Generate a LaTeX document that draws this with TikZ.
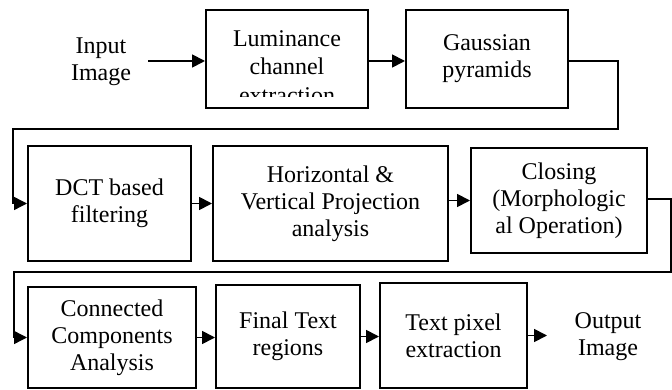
\documentclass[tikz,border=0pt]{standalone}
\usepackage{fontspec}
\setmainfont{Liberation Serif}
\usetikzlibrary{arrows.meta}
\tikzset{
  stage/.style={draw, line width=2pt, inner sep=0pt, align=center, anchor=center},
  plain/.style={inner sep=0pt, align=center},
  arr/.style={line width=1.8pt, -{Triangle[length=13pt,width=13pt]}},
  wrap/.style={line width=1.4pt, -{Triangle[length=13pt,width=13pt]}},
}
\begin{document}
\begin{tikzpicture}[x=1pt,y=-1pt,font=\fontsize{24}{27}\selectfont]
\useasboundingbox (0,0) rectangle (672,390);

% first row
\node[plain] (inp) at (101,62) {Input\\Image};
\node[stage, minimum width=162pt, minimum height=98pt] (lum) at (287,59) {};
\begin{scope}
  \clip (207,11) rectangle (367,97);
  \node[plain, font=\fontsize{24}{28.5}\selectfont] (lumtext) at (287,67) {Luminance\\channel\\extraction};
\end{scope}
\node[stage, minimum width=162pt, minimum height=98pt] (gau) at (487,59) {Gaussian\\pyramids};

% second row
\node[stage, minimum width=163pt, minimum height=115pt] (dct) at (109.5,203.5) {DCT based\\filtering};
\node[stage, minimum width=235pt, minimum height=115pt] (hvp) at (330.5,203.5) {Horizontal \&\\Vertical Projection\\analysis};
\node[stage, minimum width=176pt, minimum height=105pt] (clo) at (559,200.5) {Closing\\(Morphologic\\al Operation)};

% third row
\node[stage, minimum width=168pt, minimum height=101pt] (ccn) at (112,337.5) {Connected\\Components\\Analysis};
\node[stage, minimum width=144pt, minimum height=103pt] (ftr) at (288,336.5) {Final Text\\regions};
\node[stage, minimum width=147pt, minimum height=105pt] (tpe) at (453.5,335.5) {Text pixel\\extraction};
\node[plain] (out) at (608,337) {Output\\Image};

% bends between rows
\coordinate (g1) at (618,61);
\coordinate (g2) at (618,129);
\coordinate (g3) at (13,129);
\coordinate (c1) at (671,199);
\coordinate (c2) at (671,272);
\coordinate (c3) at (14,272);

% connectors
\draw[arr] (148,61) -- (lum.west |- 0,61);
\draw[arr] (lum.east |- 0,61) -- (gau.west |- 0,61);
\draw[wrap] (gau.east |- g1) -- (g1) -- (g2) -- (g3) -- (g3 |- dct.west) -- (dct.west);
\draw[arr] (dct.east) -- (hvp.west);
\draw[arr] (hvp.east |- clo.west) -- (clo.west);
\draw[wrap] (clo.east |- c1) -- (c1) -- (c2) -- (c3) -- (c3 |- ccn.west) -- (ccn.west);
\draw[arr] (ccn.east) -- (ccn.east -| ftr.west);
\draw[arr] (ftr.east) -- (ftr.east -| tpe.west);
\draw[arr] (tpe.east) -- ++(19,0) coordinate (oend);
\end{tikzpicture}
\end{document}
